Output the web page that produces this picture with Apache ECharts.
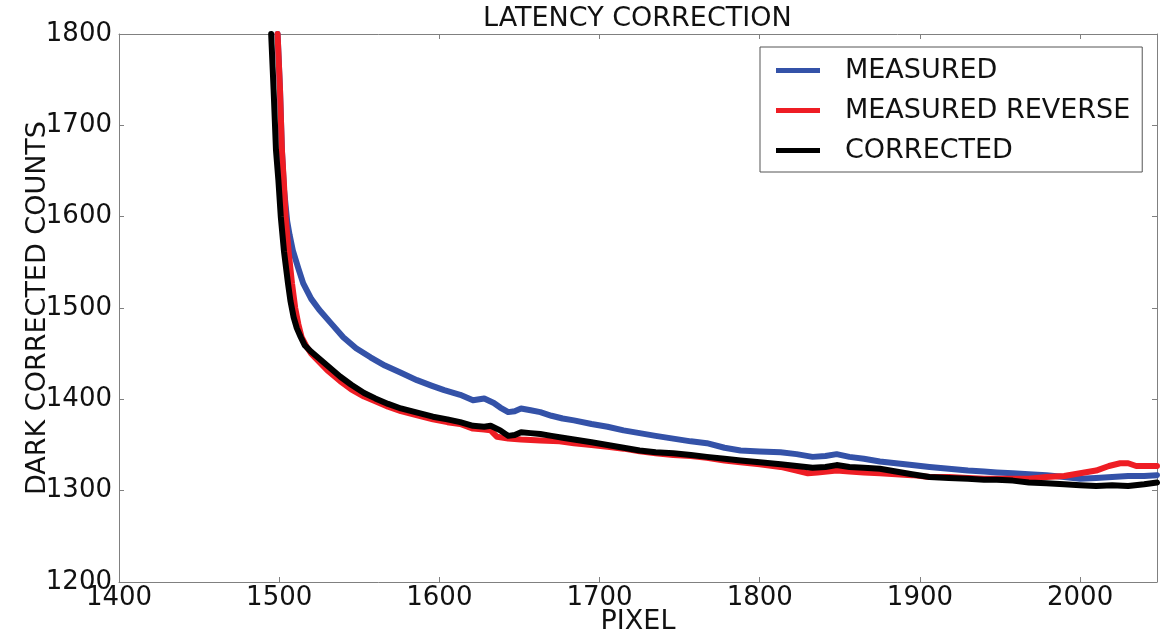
<!DOCTYPE html>
<html>
<head>
<meta charset="utf-8">
<script src="https://cdn.jsdelivr.net/npm/echarts@6/dist/echarts.min.js"></script>
<style>html,body{margin:0;padding:0;background:#fff;}#c{width:1161px;height:633px;}</style>
</head>
<body>
<div id="c"></div>
<script>
// ---- data ----
const seriesNames = ['MEASURED', 'MEASURED REVERSE', 'CORRECTED'];
const xTicks = [1400, 1500, 1600, 1700, 1800, 1900, 2000];
const yTicks = [1200, 1300, 1400, 1500, 1600, 1700, 1800];

const measuredX = [1499, 1500.5, 1501.7, 1503, 1505, 1506.5, 1508.5, 1512, 1515, 1520, 1525, 1532, 1540, 1548, 1557, 1566, 1576, 1586, 1595, 1603, 1613, 1621, 1628, 1634, 1638, 1643, 1647, 1651, 1657, 1663, 1670, 1677, 1684, 1695, 1705, 1715, 1725, 1735, 1746, 1757, 1767, 1778, 1788, 1800, 1813, 1823, 1833, 1841, 1848, 1856, 1865, 1875, 1885, 1895, 1906, 1918, 1930, 1940, 1948, 1958, 1968, 1979, 1990, 2000, 2010, 2020, 2030, 2040, 2048];
const measuredY = [1800, 1740, 1673, 1630, 1595, 1580, 1563, 1543, 1527, 1510, 1498, 1484, 1468, 1456, 1446, 1437, 1429, 1421, 1415, 1410, 1405, 1399, 1401, 1396, 1391, 1386, 1387, 1390, 1388, 1386, 1382, 1379, 1377, 1373, 1370, 1366, 1363, 1360, 1357, 1354, 1352, 1347, 1344, 1343, 1342, 1340, 1337, 1338, 1340, 1337, 1335, 1332, 1330, 1328, 1326, 1324, 1322, 1321, 1320, 1319, 1318, 1317, 1315, 1313, 1314, 1315, 1316, 1316, 1317];

const reverseX = [1499, 1500.5, 1501.7, 1503, 1504, 1506, 1508, 1510, 1512, 1514, 1517, 1520, 1525, 1530, 1538, 1545, 1553, 1560, 1568, 1576, 1585, 1596, 1605, 1613, 1621, 1628, 1632, 1636, 1643, 1651, 1663, 1675, 1684, 1695, 1705, 1715, 1725, 1735, 1746, 1757, 1767, 1778, 1788, 1800, 1813, 1823, 1830, 1836, 1848, 1856, 1865, 1875, 1885, 1895, 1906, 1918, 1930, 1940, 1948, 1958, 1968, 1979, 1990, 2000, 2010, 2018, 2025, 2030, 2035, 2040, 2048];
const reverseY = [1800, 1740, 1673, 1635, 1600, 1560, 1527, 1500, 1482, 1468, 1458, 1450, 1441, 1432, 1420, 1411, 1403, 1398, 1392, 1387, 1383, 1378, 1375, 1373, 1368, 1367, 1366, 1359, 1357, 1356, 1355, 1354, 1352, 1350, 1348, 1346, 1343, 1341, 1339, 1338, 1336, 1333, 1331, 1329, 1326, 1322, 1319, 1320, 1322, 1321, 1320, 1319, 1318, 1317, 1315, 1315, 1314, 1313, 1313, 1313, 1313, 1315, 1316, 1319, 1322, 1327, 1330, 1330, 1327, 1327, 1327];

const correctedX = [1495, 1496.5, 1498, 1499.5, 1501, 1503, 1505.5, 1507, 1509, 1511, 1513.5, 1516, 1520, 1524, 1530, 1538, 1545, 1553, 1560, 1568, 1576, 1585, 1596, 1605, 1613, 1621, 1628, 1632, 1638, 1643, 1647, 1651, 1657, 1663, 1670, 1677, 1684, 1695, 1705, 1715, 1725, 1735, 1746, 1757, 1767, 1778, 1788, 1800, 1813, 1823, 1833, 1841, 1848, 1856, 1865, 1875, 1885, 1895, 1906, 1918, 1930, 1940, 1948, 1958, 1968, 1979, 1990, 2000, 2010, 2020, 2030, 2040, 2048];
const correctedY = [1800, 1740, 1673, 1640, 1600, 1562, 1527, 1508, 1490, 1478, 1468, 1459, 1452, 1446, 1437, 1425, 1416, 1407, 1401, 1395, 1390, 1386, 1381, 1378, 1375, 1371, 1370, 1371, 1366, 1360, 1361, 1364, 1363, 1362, 1360, 1358, 1356, 1353, 1350, 1347, 1344, 1342, 1341, 1339, 1337, 1335, 1333, 1331, 1329, 1327, 1325, 1326, 1328, 1326, 1325, 1324, 1321, 1318, 1315, 1314, 1313, 1312, 1312, 1311, 1309, 1308, 1307, 1306, 1305, 1306, 1305, 1307, 1309];

const colors = ['#3452a8', '#ee1d24', '#000000'];
// ----------------------------------------

function zip(xs, ys) { return xs.map((x, i) => [x, ys[i]]); }

const FONT = 'DejaVu Sans';
const frame = '#808080';

const chart = echarts.init(document.getElementById('c'), null, {renderer: 'canvas'});

const xCommon = {
  type: 'value', min: xTicks[0], max: 2048, interval: 100,
  axisLine: {show: true, lineStyle: {color: frame, width: 1}},
  axisTick: {show: true, inside: true, length: 5, lineStyle: {color: frame}},
  splitLine: {show: false}
};
const yCommon = {
  type: 'value', min: yTicks[0], max: yTicks[yTicks.length - 1], interval: 100,
  axisLine: {show: true, lineStyle: {color: frame, width: 1}},
  axisTick: {show: true, inside: true, length: 5, lineStyle: {color: frame}},
  splitLine: {show: false}
};

chart.setOption({
  animation: false,
  backgroundColor: '#fff',
  title: {
    text: 'LATENCY CORRECTION', left: 483, top: 5, padding: 0,
    textStyle: {fontFamily: FONT, fontSize: 27, fontWeight: 'normal', color: '#111'}
  },
  grid: {left: 119, right: 4, top: 34, bottom: 51, containLabel: false, outerBoundsMode: 'none'},
  legend: {
    data: seriesNames, orient: 'vertical', left: 760, top: 47,
    padding: [10, 12, 8, 16], itemWidth: 44, itemHeight: 5, itemGap: 13,
    icon: 'rect',
    borderColor: '#555', borderWidth: 1, backgroundColor: '#fff',
    textStyle: {fontFamily: FONT, fontSize: 27, color: '#111', lineHeight: 27, padding: [0, 0, 0, 20]}
  },
  xAxis: [
    Object.assign({}, xCommon, {
      position: 'bottom',
      name: 'PIXEL', nameLocation: 'middle', nameGap: 26, nameMoveOverlap: false,
      nameTextStyle: {fontFamily: FONT, fontSize: 27, color: '#111'},
      axisLabel: {show: true, margin: 3, fontFamily: FONT, fontSize: 26, color: '#111', showMaxLabel: false,
        formatter: v => (v % 100 === 0 ? String(v) : '')}
    }),
    Object.assign({}, xCommon, {position: 'top', axisLabel: {show: false}})
  ],
  yAxis: [
    Object.assign({}, yCommon, {
      position: 'left',
      name: 'DARK CORRECTED COUNTS', nameLocation: 'middle', nameGap: 68, nameMoveOverlap: false,
      nameTextStyle: {fontFamily: FONT, fontSize: 27, color: '#111'},
      axisLabel: {show: true, margin: 7, fontFamily: FONT, fontSize: 26, color: '#111',
        formatter: v => String(v)}
    }),
    Object.assign({}, yCommon, {position: 'right', axisLabel: {show: false}})
  ],
  series: [
    {name: seriesNames[0], data: zip(measuredX, measuredY)},
    {name: seriesNames[1], data: zip(reverseX, reverseY)},
    {name: seriesNames[2], data: zip(correctedX, correctedY)}
  ].map((s, i) => Object.assign(s, {
    type: 'line', xAxisIndex: 0, yAxisIndex: 0, symbol: 'none', smooth: false,
    clip: true, color: colors[i],
    lineStyle: {color: colors[i], width: 6, join: 'round', cap: 'round'},
    z: 2 + i
  }))
});
</script>
</body>
</html>
